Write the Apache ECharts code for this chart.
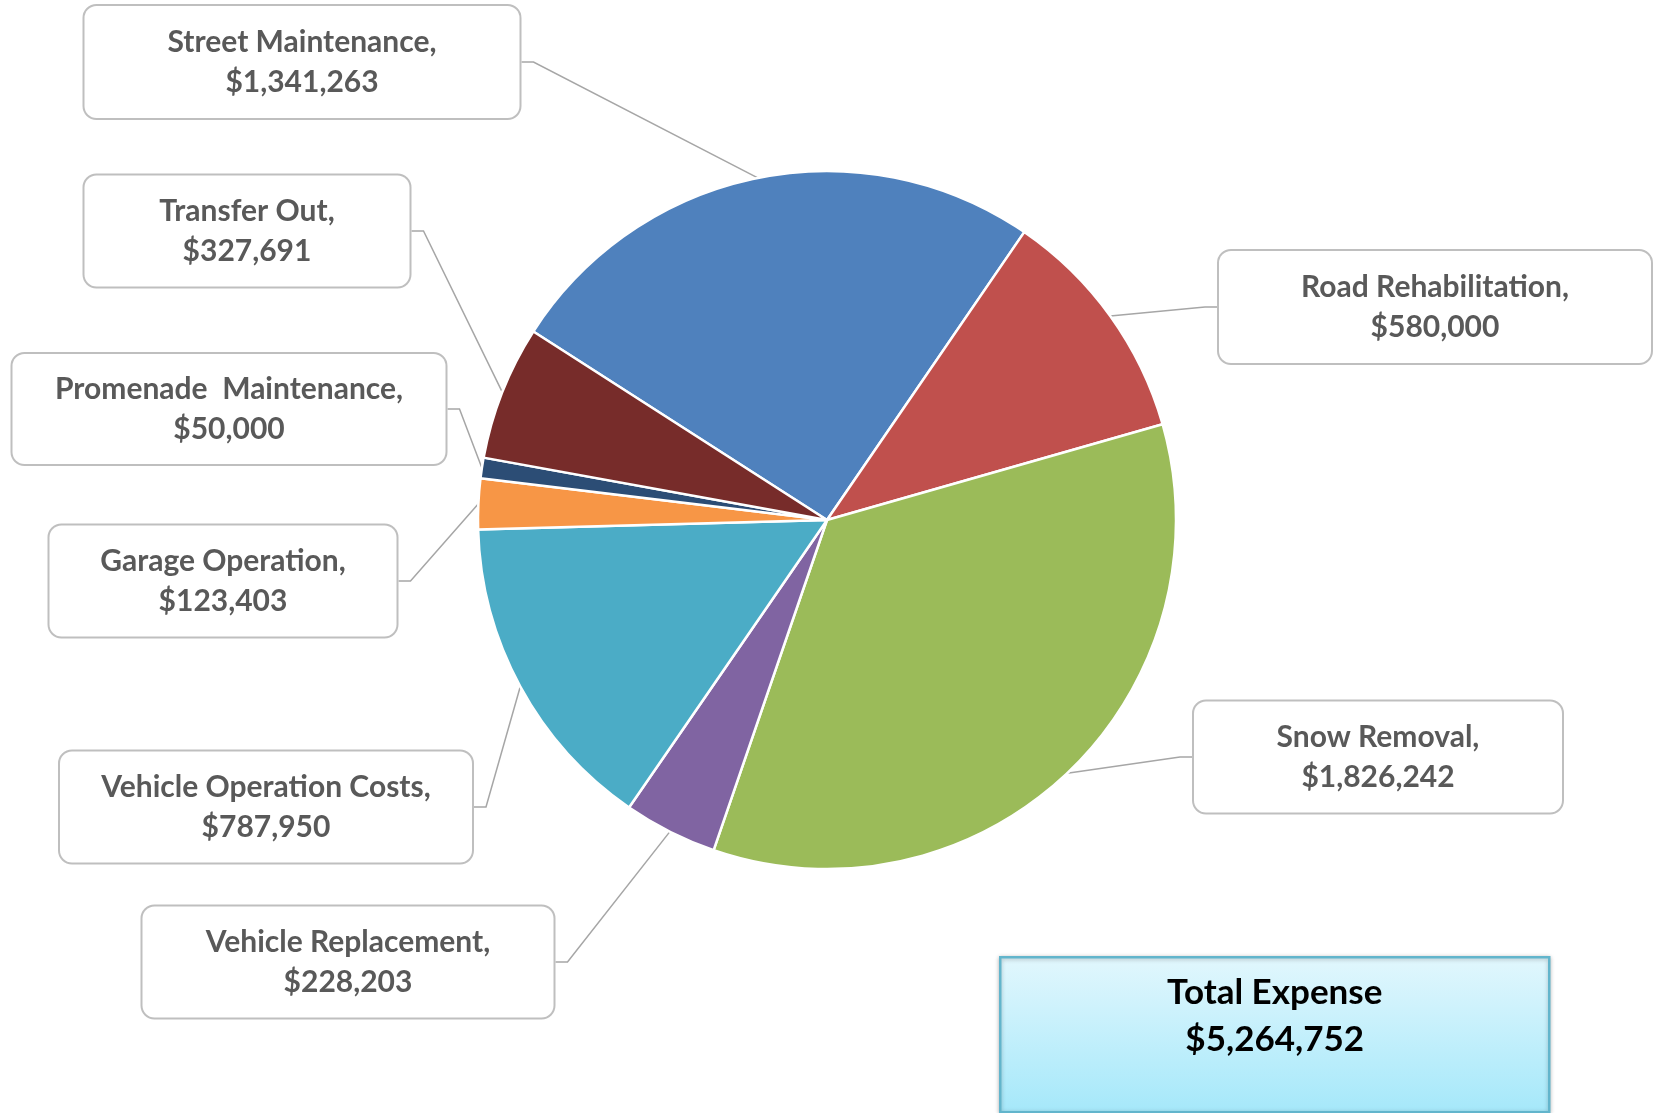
<!DOCTYPE html>
<html>
<head>
<meta charset="utf-8">
<script src="https://cdn.jsdelivr.net/npm/echarts@6/dist/echarts.min.js"></script>
<style>
html,body{margin:0;padding:0;background:#fff;}
#chart{width:1654px;height:1113px;}
</style>
</head>
<body>
<div id="chart"></div>
<script>
// ---- data ----
const categories = [
  'Street Maintenance', 'Road Rehabilitation', 'Snow Removal', 'Vehicle Replacement',
  'Vehicle Operation Costs', 'Garage Operation', 'Promenade  Maintenance', 'Transfer Out'
];
const values = [1341263, 580000, 1826242, 228203, 787950, 123403, 50000, 327691];
const totalLabel = 'Total Expense';
const totalValue = 5264752;

// ---- styling / layout (not data) ----
const colors = ['#4F81BD', '#C0504D', '#9BBB59', '#8064A2', '#4BACC6', '#F79646', '#2C4D75', '#772C2A'];
// label box centers and sizes [cx, cy, w, h]
const boxLayout = [
  [302, 62, 435, 112],
  [1435, 307, 432, 112],
  [1378, 757, 368, 111],
  [348, 962, 411, 111],
  [266, 807, 412, 111],
  [223, 581, 347, 111],
  [229, 409, 433, 110],
  [247, 231, 325, 111]
];
const LINE_H = 40;

function fmt(v) { return '$' + v.toLocaleString('en-US'); }

const chart = echarts.init(document.getElementById('chart'), null, { renderer: 'canvas' });

const seriesData = categories.map((name, i) => ({
  name: name,
  value: values[i],
  itemStyle: { color: colors[i] },
  label: {
    width: boxLayout[i][2],
    padding: [(boxLayout[i][3] - 2 * LINE_H) / 2, 0]
  }
}));

chart.setOption({
  animation: false,
  backgroundColor: '#ffffff',
  series: [{
    type: 'pie',
    center: [827, 520],
    radius: 349,
    startAngle: 147.3,
    clockwise: true,
    avoidLabelOverlap: false,
    itemStyle: { borderColor: '#ffffff', borderWidth: 2.5 },
    label: {
      show: true,
      position: 'outside',
      formatter: p => p.name + ',\n' + fmt(p.value),
      fontFamily: 'Lato',
      fontWeight: 'bold',
      fontSize: 30,
      lineHeight: LINE_H,
      color: '#595959',
      align: 'center',
      overflow: 'none',
      backgroundColor: '#ffffff',
      borderColor: '#BFBFBF',
      borderWidth: 2,
      borderRadius: 12
    },
    labelLine: {
      show: true,
      length: 20,
      length2: 12,
      smooth: false,
      lineStyle: { color: '#A6A6A6', width: 1.5 }
    },
    labelLayout: function (params) {
      const b = boxLayout[params.dataIndex];
      return { x: b[0], y: b[1], align: 'center', verticalAlign: 'middle' };
    },
    emphasis: { disabled: true },
    data: seriesData
  }],
  graphic: [{
    type: 'group',
    left: 999,
    top: 956,
    children: [{
      type: 'rect',
      shape: { x: 0, y: 0, width: 549, height: 155 },
      style: {
        fill: new echarts.graphic.LinearGradient(0, 0, 0, 1, [
          { offset: 0, color: '#E2F7FD' },
          { offset: 1, color: '#A5E8FA' }
        ]),
        stroke: '#62B5CC',
        lineWidth: 2.5,
        shadowColor: 'rgba(0,0,0,0.25)',
        shadowBlur: 4,
        shadowOffsetY: 1
      }
    }, {
      type: 'text',
      x: 274.5,
      y: 59,
      style: {
        text: totalLabel + '\n' + fmt(totalValue),
        fontFamily: 'Lato',
        fontWeight: 'bold',
        fontSize: 35,
        lineHeight: 47,
        fill: '#000000',
        align: 'center',
        verticalAlign: 'middle'
      }
    }]
  }]
});
</script>
</body>
</html>
